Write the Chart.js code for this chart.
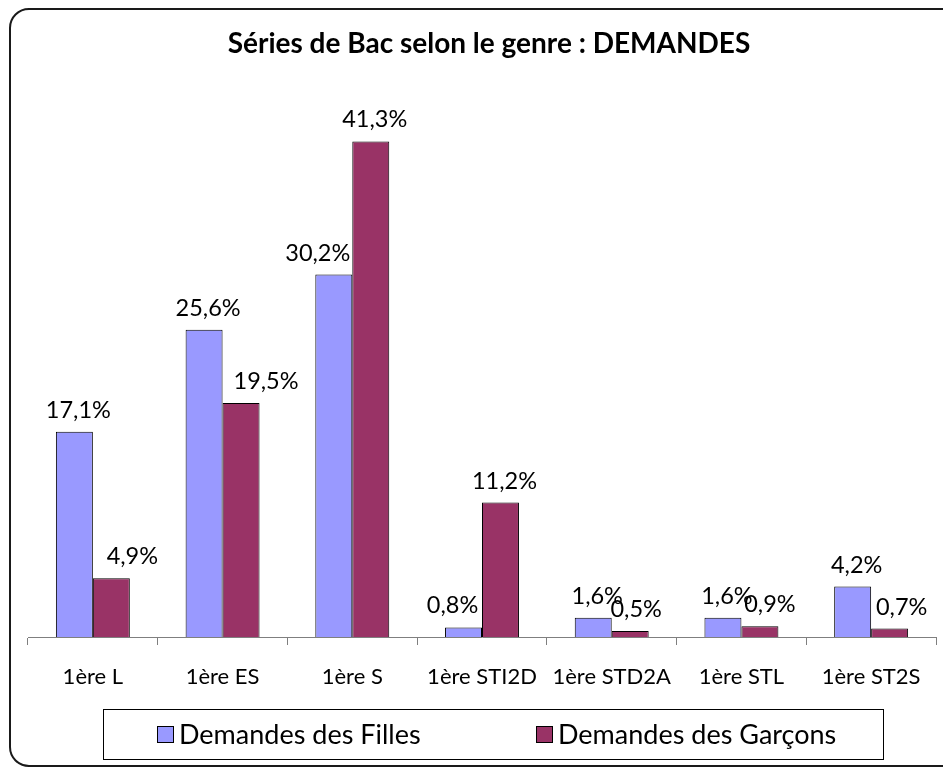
<!DOCTYPE html>
<html>
<head>
<meta charset="utf-8">
<script src="https://cdn.jsdelivr.net/npm/chart.js@4.4.1/dist/chart.umd.min.js"></script>
<style>
  html, body { margin: 0; padding: 0; background: #fff; overflow: hidden; }
  #frame {
    position: absolute; left: 9px; top: 8px; width: 980px; height: 759px;
    border: 2px solid #1a1a1a; border-radius: 20px; box-sizing: border-box;
  }
  #bacChart { position: absolute; left: 0; top: 0; }
</style>
</head>
<body>
<div id="frame"></div>
<canvas id="bacChart" width="943" height="768"></canvas>
<script>
// Séries de Bac selon le genre : DEMANDES
const categories = ['1ère L', '1ère ES', '1ère S', '1ère STI2D', '1ère STD2A', '1ère STL', '1ère ST2S'];
const filles = [17.1, 25.6, 30.2, 0.8, 1.6, 1.6, 4.2];
const garcons = [4.9, 19.5, 41.3, 11.2, 0.5, 0.9, 0.7];
const seriesNames = ['Demandes des Filles', 'Demandes des Garçons'];

const FONT = 'Lato, "Open Sans", sans-serif';

const fmt = v => v.toFixed(1).replace('.', ',') + '%';

// libellés au-dessus des barres (quelques-uns décalés comme dans l'original)
const valueLabels = {
    id: 'valueLabels',
    afterDatasetsDraw(chart, args, opts) {
        const ctx = chart.ctx;
        const nudge = opts.nudge || {};
        ctx.save();
        ctx.font = '23.5px ' + FONT;
        ctx.fillStyle = '#000';
        ctx.textAlign = 'center';
        ctx.textBaseline = 'alphabetic';
        chart.data.datasets.forEach((ds, i) => {
            chart.getDatasetMeta(i).data.forEach((bar, j) => {
                const dx = nudge[i + '-' + j] !== undefined ? nudge[i + '-' + j] : opts.shift;
                ctx.fillText(fmt(ds.data[j]), bar.x + dx, bar.y - 14);
            });
        });
        ctx.restore();
    }
};

// titre + légende encadrée
const frameText = {
    id: 'frameText',
    afterDraw(chart) {
        const ctx = chart.ctx;
        ctx.save();
        ctx.fillStyle = '#000';
        ctx.textAlign = 'center';
        ctx.textBaseline = 'middle';
        ctx.font = 'bold 28px ' + FONT;
        ctx.fillText('Séries de Bac selon le genre : DEMANDES', 489, 44);

        ctx.strokeStyle = '#000';
        ctx.lineWidth = 1;
        ctx.strokeRect(103.5, 709.5, 780, 50);

        const itemX = [157, 536];
        ctx.font = '27px ' + FONT;
        ctx.textAlign = 'left';
        chart.data.datasets.forEach((ds, i) => {
            ctx.fillStyle = ds.backgroundColor;
            ctx.fillRect(itemX[i] + 0.5, 726.5, 16, 16);
            ctx.strokeRect(itemX[i] + 0.5, 726.5, 16, 16);
            ctx.fillStyle = '#000';
            ctx.fillText(ds.label, itemX[i] + 22, 735);
        });
        ctx.restore();
    }
};

new Chart(document.getElementById('bacChart'), {
    type: 'bar',
    data: {
        labels: categories,
        datasets: [
            {
                label: seriesNames[0],
                data: filles,
                backgroundColor: '#9999FF',
                borderColor: '#000',
                borderWidth: 1
            },
            {
                label: seriesNames[1],
                data: garcons,
                backgroundColor: '#993366',
                borderColor: '#000',
                borderWidth: 1
            }
        ]
    },
    options: {
        responsive: false,
        animation: false,
        devicePixelRatio: 1,
        layout: {
            padding: { top: 97, left: 28, right: 7, bottom: 71 }
        },
        datasets: {
            bar: {
                categoryPercentage: 0.57,
                barPercentage: 1
            }
        },
        plugins: {
            legend: { display: false },
            title: { display: false },
            tooltip: { enabled: false },
            valueLabels: {
                shift: 4,
                nudge: { '0-2': -16, '0-3': -11, '1-0': 21, '1-1': 25, '1-4': 6, '1-5': 10, '1-6': 12 }
            }
        },
        scales: {
            y: {
                display: false,
                min: 0,
                max: 45
            },
            x: {
                afterFit: scale => { scale.height = 60; },
                border: { display: true, color: '#7f7f7f', width: 1 },
                grid: {
                    offset: true,
                    drawOnChartArea: false,
                    drawTicks: true,
                    tickLength: 8,
                    color: '#7f7f7f'
                },
                ticks: {
                    color: '#000',
                    padding: 19,
                    font: { family: FONT, size: 22 }
                }
            }
        }
    },
    plugins: [valueLabels, frameText]
});
</script>
</body>
</html>
